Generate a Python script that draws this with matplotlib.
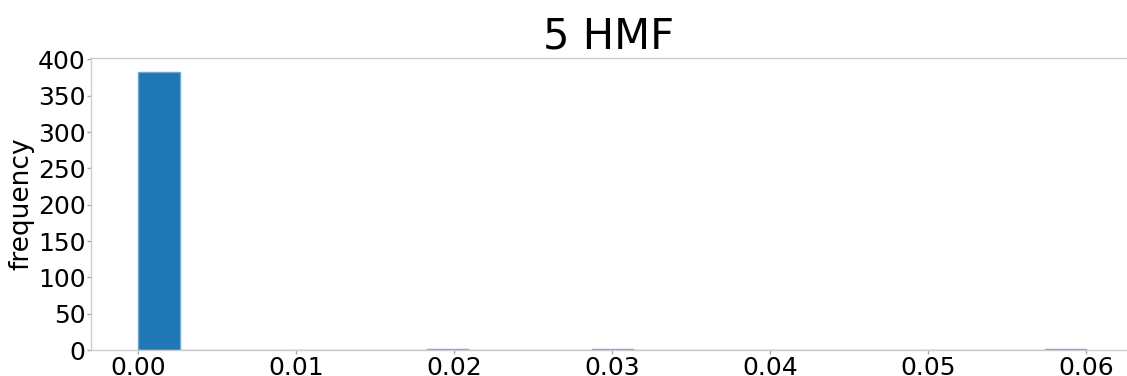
#!/usr/bin/env python3

import numpy as np
import matplotlib
matplotlib.use('Agg')
import matplotlib.pyplot as plt

# histogram data: 23 bins over [0, 0.06]
n_bins = 23
hist_range = (0.0, 0.06)
values = [0.0013, 0.0196, 0.0300, 0.0587]   # representative value in each occupied bin
counts = [383, 1, 1, 1]

title = "5 HMF"
ylabel = "frequency"
xticks = [0.00, 0.01, 0.02, 0.03, 0.04, 0.05, 0.06]
xtick_labels = ["0.00", "0.01", "0.02", "0.03", "0.04", "0.05", "0.06"]
yticks = [0, 50, 100, 150, 200, 250, 300, 350, 400]


def main():
    fig = plt.figure(figsize=(11.27, 3.76), dpi=100)
    ax = fig.add_axes([0.0807, 0.069, 0.9193, 0.777])

    ax.hist(values, bins=n_bins, range=hist_range, weights=counts,
            color='#1f77b4', edgecolor='#6aa8dc', linewidth=1)

    ax.set_xlim(-0.003, 0.0626)
    ax.set_xticks(xticks)
    ax.set_xticklabels(xtick_labels)
    ax.set_yticks(yticks)

    ax.set_title(title, fontsize=30, pad=1)
    ax.set_ylabel(ylabel, fontsize=19, labelpad=2)
    ax.tick_params(labelsize=18, color='#aaaaaa', length=3, width=1, pad=1)

    for s in ax.spines.values():
        s.set_color('#cccccc')
        s.set_linewidth(1)
    ax.spines['right'].set_visible(False)

    fig.savefig('out.png', dpi=100)


if __name__ == '__main__':
    main()
